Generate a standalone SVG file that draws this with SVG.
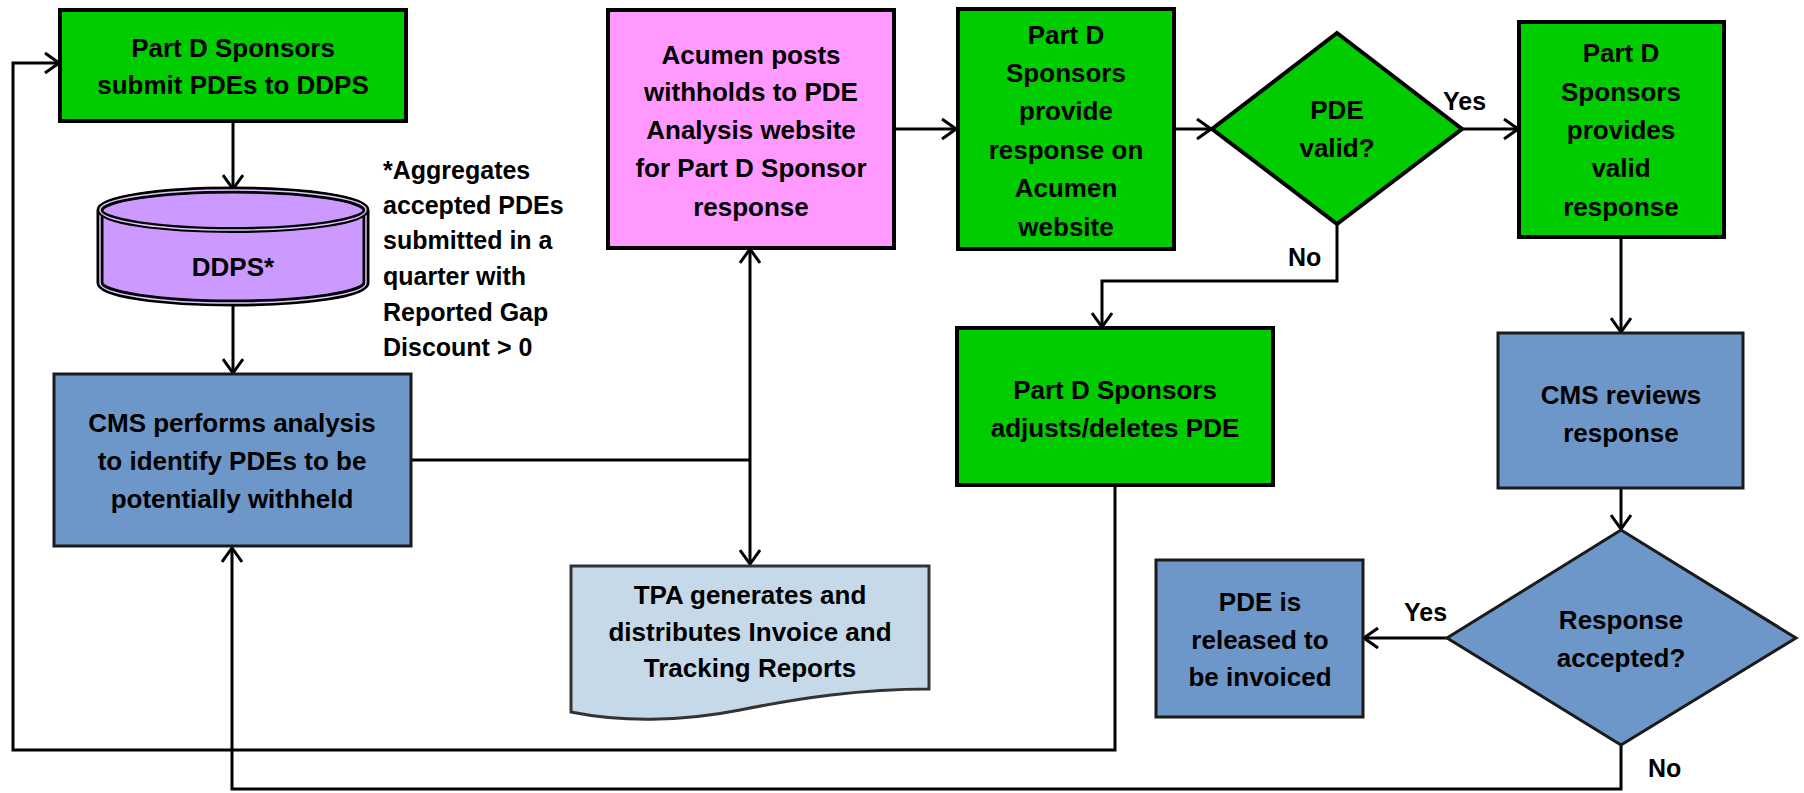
<svg xmlns="http://www.w3.org/2000/svg" width="1804" height="793" viewBox="0 0 1804 793">
<style>
.t{font-family:"Liberation Sans",Arial,sans-serif;font-weight:bold;font-size:26px;text-anchor:middle;fill:#000}
.n{font-family:"Liberation Sans",Arial,sans-serif;font-weight:bold;font-size:25px;fill:#000}
.g{fill:#00CC00;stroke:#000;stroke-width:4}
.b{fill:#6C97C8;stroke:#1a1a1a;stroke-width:3}
.c{fill:none;stroke:#000;stroke-width:3}
</style>
<defs>
<marker id="ah" viewBox="0 0 16 22" refX="15" refY="11" markerWidth="16" markerHeight="22" markerUnits="userSpaceOnUse" orient="auto-start-reverse"><path d="M1,1 L15,11 L1,21" fill="none" stroke="#000" stroke-width="3"/></marker>
</defs>
<g id="connectors">
<path class="c" d="M233,121 V189" marker-end="url(#ah)"/>
<path class="c" d="M233,304 V373" marker-end="url(#ah)"/>
<path class="c" d="M411,460 H750"/>
<path class="c" d="M750,249 V564" marker-start="url(#ah)" marker-end="url(#ah)"/>
<path class="c" d="M894,129 H956" marker-end="url(#ah)"/>
<path class="c" d="M1174,129 H1211" marker-end="url(#ah)"/>
<path class="c" d="M1462,129 H1518" marker-end="url(#ah)"/>
<path class="c" d="M1337,223 V281 H1102 V327" marker-end="url(#ah)"/>
<path class="c" d="M1621,237 V332" marker-end="url(#ah)"/>
<path class="c" d="M1621,489 V529" marker-end="url(#ah)"/>
<path class="c" d="M1447,638 H1364" marker-end="url(#ah)"/>
<path class="c" d="M1621,745 V789 H232 V548" marker-end="url(#ah)"/>
<path class="c" d="M1115,486 V750 H13 V63 H59" marker-end="url(#ah)"/>
<text class="n" x="1443" y="110">Yes</text>
<text class="n" x="1288" y="266">No</text>
<text class="n" x="1404" y="621">Yes</text>
<text class="n" x="1648" y="777">No</text>
</g>
<g id="submit">
<rect class="g" x="60" y="10" width="346" height="111"/>
<text class="t" x="233" y="57">Part D Sponsors</text>
<text class="t" x="233" y="94">submit PDEs to DDPS</text>
</g>
<g id="ddps">
<path d="M100,210 A133,20 0 0 1 366,210 V283 A133,20 0 0 1 100,283 Z" fill="#CC99FF" stroke="#000" stroke-width="7"/>
<path d="M100,210 A133,20 0 0 1 366,210 V283 A133,20 0 0 1 100,283 Z" fill="none" stroke="#E2C6FF" stroke-width="1.5"/>
<ellipse cx="233" cy="210" rx="133" ry="20" fill="none" stroke="#000" stroke-width="6"/>
<ellipse cx="233" cy="210" rx="133" ry="20" fill="none" stroke="#E2C6FF" stroke-width="1.5"/>
<text class="t" x="233" y="276">DDPS*</text>
</g>
<g id="note">
<text class="n" x="383" y="179">*Aggregates</text>
<text class="n" x="383" y="214">accepted PDEs</text>
<text class="n" x="383" y="249">submitted in a</text>
<text class="n" x="383" y="285">quarter with</text>
<text class="n" x="383" y="321">Reported Gap</text>
<text class="n" x="383" y="356">Discount &gt; 0</text>
</g>
<g id="analysis">
<rect class="b" x="54" y="374" width="357" height="172"/>
<text class="t" x="232" y="432">CMS performs analysis</text>
<text class="t" x="232" y="470">to identify PDEs to be</text>
<text class="t" x="232" y="508">potentially withheld</text>
</g>
<g id="acumen">
<rect x="608" y="10" width="286" height="238" fill="#FF99FF" stroke="#000" stroke-width="4"/>
<text class="t" x="751" y="64">Acumen posts</text>
<text class="t" x="751" y="101">withholds to PDE</text>
<text class="t" x="751" y="139">Analysis website</text>
<text class="t" x="751" y="177">for Part D Sponsor</text>
<text class="t" x="751" y="216">response</text>
</g>
<g id="provide">
<rect class="g" x="958" y="9" width="216" height="240"/>
<text class="t" x="1066" y="44">Part D</text>
<text class="t" x="1066" y="82">Sponsors</text>
<text class="t" x="1066" y="120">provide</text>
<text class="t" x="1066" y="159">response on</text>
<text class="t" x="1066" y="197">Acumen</text>
<text class="t" x="1066" y="236">website</text>
</g>
<g id="valid">
<polygon class="g" points="1337,33 1462,129 1337,224 1212,129"/>
<text class="t" x="1337" y="119">PDE</text>
<text class="t" x="1337" y="157">valid?</text>
</g>
<g id="validresp">
<rect class="g" x="1519" y="22" width="205" height="215"/>
<text class="t" x="1621" y="62">Part D</text>
<text class="t" x="1621" y="101">Sponsors</text>
<text class="t" x="1621" y="139">provides</text>
<text class="t" x="1621" y="177">valid</text>
<text class="t" x="1621" y="216">response</text>
</g>
<g id="adjust">
<rect class="g" x="957" y="328" width="316" height="157"/>
<text class="t" x="1115" y="399">Part D Sponsors</text>
<text class="t" x="1115" y="437">adjusts/deletes PDE</text>
</g>
<g id="review">
<rect class="b" x="1498" y="333" width="245" height="155"/>
<text class="t" x="1621" y="404">CMS reviews</text>
<text class="t" x="1621" y="442">response</text>
</g>
<g id="accepted">
<polygon class="b" points="1621,530 1796,638 1621,745 1447,638"/>
<text class="t" x="1621" y="629">Response</text>
<text class="t" x="1621" y="667">accepted?</text>
</g>
<g id="released">
<rect class="b" x="1156" y="560" width="207" height="157"/>
<text class="t" x="1260" y="611">PDE is</text>
<text class="t" x="1260" y="649">released to</text>
<text class="t" x="1260" y="686">be invoiced</text>
</g>
<g id="tpa">
<path d="M571,566 H929 V689 C860,689 800,698 740,710 C680,722 620,722 571,712 Z" fill="#C6D9E8" stroke="#333" stroke-width="3"/>
<text class="t" x="750" y="604">TPA generates and</text>
<text class="t" x="750" y="641">distributes Invoice and</text>
<text class="t" x="750" y="677">Tracking Reports</text>
</g>
</svg>
